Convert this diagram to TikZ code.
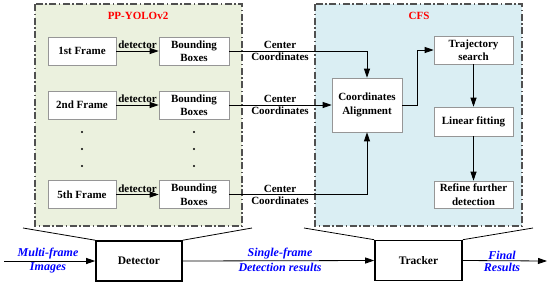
\documentclass[tikz,border=0pt]{standalone}
\usepackage{fontspec}
\setmainfont{Liberation Serif}
\usetikzlibrary{arrows.meta,positioning}

\definecolor{panelgreen}{RGB}{235,241,222}
\definecolor{panelblue}{RGB}{218,238,243}
\definecolor{panelline}{RGB}{80,80,80}
\definecolor{boxline}{RGB}{150,150,150}

\tikzset{
    panel/.style={draw=panelline, line width=1.2pt, dash pattern=on 7pt off 2.5pt on 1.5pt off 2.5pt},
    stagebox/.style={draw=boxline, fill=white, line width=0.6pt, minimum height=28pt, align=center,
        font=\fontsize{11}{13.5}\selectfont\bfseries, inner sep=1pt},
    blockbox/.style={draw=black, line width=1.6pt, fill=white, minimum width=86pt, minimum height=40pt,
        font=\fontsize{11.5}{13}\selectfont\bfseries},
    arr/.style={-{Triangle[length=9pt,width=6pt]}, line width=0.8pt},
    lbl/.style={font=\fontsize{11}{13}\selectfont\bfseries, inner sep=1pt},
    flow/.style={font=\fontsize{12}{14}\selectfont\bfseries\itshape, text=blue, inner sep=1pt},
    ttl/.style={font=\fontsize{11}{13}\selectfont\bfseries, text=red}
}

\begin{document}
\begin{tikzpicture}[x=1pt,y=-1pt]
    \useasboundingbox (0,0) rectangle (550,285);

    % panels
    \draw[panel, fill=panelgreen] (35,4) rectangle (242,226);
    \draw[panel, fill=panelblue] (315,4) rectangle (522,226);
    \node[ttl] (yolo) at (138,16) {PP-YOLOv2};
    \node[ttl] (cfs) at (419,16) {CFS};

    % frames and bounding boxes
    \foreach \n/\t/\y in {f1/1st/51, f2/2nd/105, f5/5th/194.5}
        {
            \node[stagebox, minimum width=68pt] (\n) at (82,\y) {\t\ Frame};
            \node[stagebox, minimum width=70pt] (bb\n) at (194,\y) {Bounding\\Boxes};
            \draw[arr] (\n) -- node[lbl, above=0.5pt] (det\n) {detector} (bb\n);
        }
    \foreach \y in {132,149,166}
        {
            \fill (82,\y) circle (1.1pt);
            \fill (194,\y) circle (1.1pt);
        }

    % CFS blocks
    \node[stagebox, minimum width=70pt, minimum height=54pt] (ca) at (367,105) {Coordinates\\Alignment};
    \node[stagebox, minimum width=79pt] (traj) at (473.5,50) {Trajectory\\search};
    \node[stagebox, minimum width=79pt, minimum height=29pt] (lin) at (473.5,121.5) {Linear fitting};
    \node[stagebox, minimum width=79pt, minimum height=27pt] (ref) at (473.5,194.5) {Refine further\\detection};

    \draw[arr] (bbf1.east) -| (ca.north);
    \draw[arr] (bbf2.east) -- (ca.west);
    \draw[arr] (bbf5.east) -| (ca.south);
    \draw[arr] (ca.east) -- ++(15,0) |- (traj.west);
    \draw[arr] (traj) -- (lin);
    \draw[arr] (lin) -- (ref);

    \foreach \y/\k in {51/a, 105/b, 194.5/c}
        {
            \node[lbl, above=1pt] (cen\k) at (280,\y) {Center};
            \node[lbl, below=1pt] (coo\k) at (280,\y) {Coordinates};
        }

    % detector and tracker
    \node[blockbox] (det) at (139,261) {Detector};
    \node[blockbox, minimum width=87pt] (trk) at (418.5,260.5) {Tracker};
    \coordinate (in) at (4,261);
    \coordinate (out) at (547,261);
    \coordinate (gl) at (23,228);
    \coordinate (gr) at (252,228);
    \coordinate (bl) at (304,228);
    \coordinate (br) at (533,228);

    \draw[line width=0.8pt] (gl) -- (det.north west);
    \draw[line width=0.8pt] (det.north east) -- (gr);
    \draw[line width=0.8pt] (bl) -- (trk.north west);
    \draw[line width=0.8pt] (trk.north east) -- (br);

    \draw[arr] (in) -- (det.west);
    \draw[arr] (det.east) -- (trk.west);
    \draw[arr] (trk.east) -- (out);

    \node[flow, above=0.5pt] (mf) at (48,261) {Multi-frame};
    \node[flow, below=0.5pt] (im) at (48,261) {Images};
    \node[flow, above=0.5pt] (sf) at (280,261) {Single-frame};
    \node[flow, below=0.5pt] (dr) at (280,261) {Detection results};
    \node[flow, above=0.5pt] (fi) at (502,261) {Final};
    \node[flow, below=0.5pt] (re) at (502,261) {Results};
\end{tikzpicture}
\end{document}
